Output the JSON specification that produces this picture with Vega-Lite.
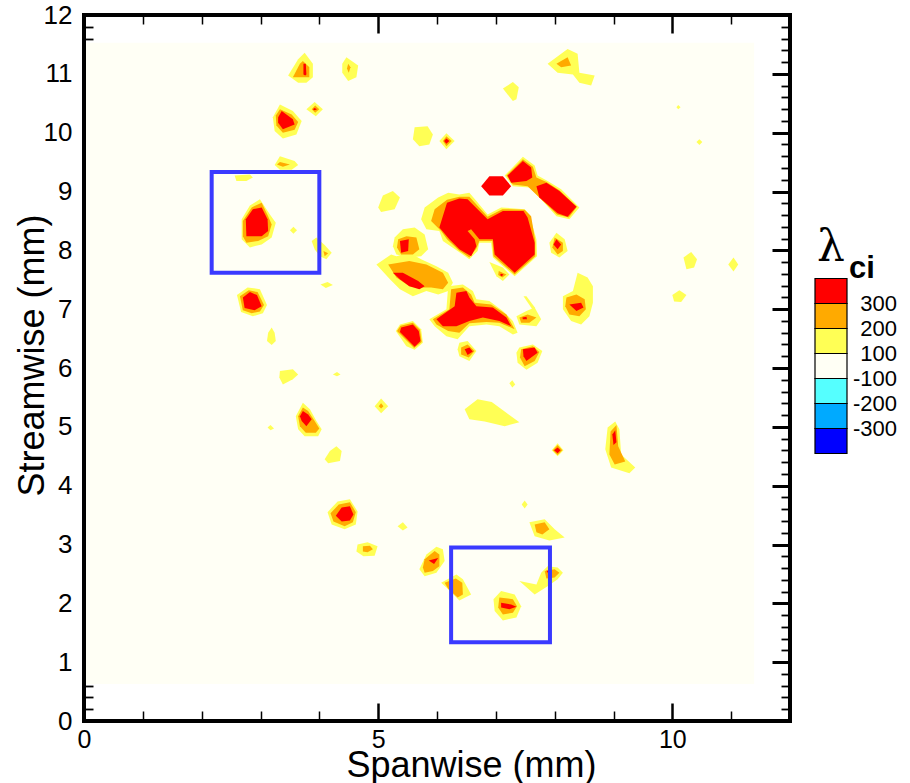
{
  "$schema": "https://vega.github.io/schema/vega-lite/v6.json",
  "background": "white",
  "padding": {"left": 14, "top": 2, "right": 4, "bottom": 4},
  "config": {
    "view": {"stroke": null},
    "font": "Liberation Sans",
    "axis": {"grid": false, "domain": false, "zindex": 1, "labelColor": "black", "titleColor": "black", "tickColor": "black", "labelFont": "Liberation Sans", "titleFont": "Liberation Sans", "titleFontWeight": "normal", "tickCap": "butt", "labelFlush": false}
  },
  "datasets": {
    "contours": [
      {"id":"A","lam":100,"x":3.75,"y":11.36},{"id":"A","lam":100,"x":3.89,"y":11.17},{"id":"A","lam":100,"x":3.89,"y":10.94},{"id":"A","lam":100,"x":3.78,"y":10.85},{"id":"A","lam":100,"x":3.64,"y":10.85},{"id":"A","lam":100,"x":3.47,"y":10.97},{"id":"A","lam":100,"x":3.64,"y":11.25},
      {"id":"B","lam":100,"x":4.46,"y":11.28},{"id":"B","lam":100,"x":4.66,"y":11.14},{"id":"B","lam":100,"x":4.63,"y":10.94},{"id":"B","lam":100,"x":4.49,"y":10.88},{"id":"B","lam":100,"x":4.39,"y":11.02},{"id":"B","lam":100,"x":4.39,"y":11.17},
      {"id":"C","lam":100,"x":7.88,"y":11.17},{"id":"C","lam":100,"x":8.22,"y":11.42},{"id":"C","lam":100,"x":8.39,"y":11.34},{"id":"C","lam":100,"x":8.42,"y":11.02},{"id":"C","lam":100,"x":8.68,"y":10.97},{"id":"C","lam":100,"x":8.62,"y":10.80},{"id":"C","lam":100,"x":8.42,"y":10.85},{"id":"C","lam":100,"x":8.31,"y":10.99},{"id":"C","lam":100,"x":8.05,"y":11.02},
      {"id":"D","lam":100,"x":7.12,"y":10.75},{"id":"D","lam":100,"x":7.29,"y":10.86},{"id":"D","lam":100,"x":7.39,"y":10.77},{"id":"D","lam":100,"x":7.35,"y":10.57},{"id":"D","lam":100,"x":7.29,"y":10.54},{"id":"D","lam":100,"x":7.20,"y":10.65},
      {"id":"E","lam":100,"x":3.33,"y":10.48},{"id":"E","lam":100,"x":3.55,"y":10.37},{"id":"E","lam":100,"x":3.70,"y":10.20},{"id":"E","lam":100,"x":3.61,"y":9.97},{"id":"E","lam":100,"x":3.38,"y":9.90},{"id":"E","lam":100,"x":3.24,"y":10.03},{"id":"E","lam":100,"x":3.21,"y":10.26},
      {"id":"F","lam":100,"x":3.92,"y":10.52},{"id":"F","lam":100,"x":4.06,"y":10.40},{"id":"F","lam":100,"x":3.94,"y":10.28},{"id":"F","lam":100,"x":3.78,"y":10.40},
      {"id":"G","lam":100,"x":5.62,"y":10.09},{"id":"G","lam":100,"x":5.84,"y":10.11},{"id":"G","lam":100,"x":5.93,"y":9.97},{"id":"G","lam":100,"x":5.87,"y":9.80},{"id":"G","lam":100,"x":5.70,"y":9.77},{"id":"G","lam":100,"x":5.59,"y":9.89},
      {"id":"H","lam":100,"x":6.16,"y":9.99},{"id":"H","lam":100,"x":6.30,"y":9.86},{"id":"H","lam":100,"x":6.16,"y":9.72},{"id":"H","lam":100,"x":6.04,"y":9.86},
      {"id":"J","lam":100,"x":3.33,"y":9.60},{"id":"J","lam":100,"x":3.58,"y":9.52},{"id":"J","lam":100,"x":3.64,"y":9.45},{"id":"J","lam":100,"x":3.53,"y":9.37},{"id":"J","lam":100,"x":3.33,"y":9.37},{"id":"J","lam":100,"x":3.24,"y":9.45},
      {"id":"K","lam":100,"x":2.56,"y":9.27},{"id":"K","lam":100,"x":2.82,"y":9.29},{"id":"K","lam":100,"x":2.87,"y":9.24},{"id":"K","lam":100,"x":2.76,"y":9.18},{"id":"K","lam":100,"x":2.59,"y":9.18},
      {"id":"P","lam":100,"x":5.08,"y":8.93},{"id":"P","lam":100,"x":5.25,"y":9.01},{"id":"P","lam":100,"x":5.37,"y":8.90},{"id":"P","lam":100,"x":5.28,"y":8.70},{"id":"P","lam":100,"x":5.05,"y":8.65},{"id":"P","lam":100,"x":5.00,"y":8.73},
      {"id":"L","lam":100,"x":5.73,"y":8.53},{"id":"L","lam":100,"x":5.79,"y":8.73},{"id":"L","lam":100,"x":6.02,"y":8.90},{"id":"L","lam":100,"x":6.19,"y":8.98},{"id":"L","lam":100,"x":6.38,"y":8.95},{"id":"L","lam":100,"x":6.55,"y":8.98},{"id":"L","lam":100,"x":6.67,"y":8.84},{"id":"L","lam":100,"x":6.86,"y":8.61},{"id":"L","lam":100,"x":7.09,"y":8.73},{"id":"L","lam":100,"x":7.49,"y":8.70},{"id":"L","lam":100,"x":7.57,"y":8.61},{"id":"L","lam":100,"x":7.69,"y":8.19},{"id":"L","lam":100,"x":7.70,"y":7.90},{"id":"L","lam":100,"x":7.32,"y":7.56},{"id":"L","lam":100,"x":6.95,"y":7.88},{"id":"L","lam":100,"x":6.92,"y":8.13},{"id":"L","lam":100,"x":6.72,"y":8.13},{"id":"L","lam":100,"x":6.69,"y":7.99},{"id":"L","lam":100,"x":6.55,"y":7.85},{"id":"L","lam":100,"x":6.35,"y":7.99},{"id":"L","lam":100,"x":6.10,"y":8.16},{"id":"L","lam":100,"x":6.04,"y":8.33},{"id":"L","lam":100,"x":5.82,"y":8.36},
      {"id":"UR","lam":100,"x":7.15,"y":9.27},{"id":"UR","lam":100,"x":7.46,"y":9.59},{"id":"UR","lam":100,"x":7.66,"y":9.44},{"id":"UR","lam":100,"x":7.71,"y":9.27},{"id":"UR","lam":100,"x":7.88,"y":9.18},{"id":"UR","lam":100,"x":8.11,"y":9.04},{"id":"UR","lam":100,"x":8.42,"y":8.73},{"id":"UR","lam":100,"x":8.25,"y":8.53},{"id":"UR","lam":100,"x":8.03,"y":8.58},{"id":"UR","lam":100,"x":7.77,"y":8.87},{"id":"UR","lam":100,"x":7.57,"y":9.07},{"id":"UR","lam":100,"x":7.29,"y":9.09},
      {"id":"LU","lam":100,"x":5.28,"y":8.22},{"id":"LU","lam":100,"x":5.42,"y":8.36},{"id":"LU","lam":100,"x":5.62,"y":8.39},{"id":"LU","lam":100,"x":5.79,"y":8.27},{"id":"LU","lam":100,"x":5.85,"y":8.02},{"id":"LU","lam":100,"x":5.73,"y":7.90},{"id":"LU","lam":100,"x":5.53,"y":7.88},{"id":"LU","lam":100,"x":5.31,"y":7.93},{"id":"LU","lam":100,"x":5.25,"y":8.07},
      {"id":"LL","lam":100,"x":4.97,"y":7.76},{"id":"LL","lam":100,"x":5.22,"y":7.93},{"id":"LL","lam":100,"x":5.31,"y":7.90},{"id":"LL","lam":100,"x":5.53,"y":7.96},{"id":"LL","lam":100,"x":5.73,"y":7.85},{"id":"LL","lam":100,"x":5.99,"y":7.73},{"id":"LL","lam":100,"x":6.19,"y":7.62},{"id":"LL","lam":100,"x":6.27,"y":7.45},{"id":"LL","lam":100,"x":6.19,"y":7.31},{"id":"LL","lam":100,"x":6.02,"y":7.25},{"id":"LL","lam":100,"x":5.82,"y":7.31},{"id":"LL","lam":100,"x":5.59,"y":7.22},{"id":"LL","lam":100,"x":5.37,"y":7.34},{"id":"LL","lam":100,"x":5.20,"y":7.51},
      {"id":"LM","lam":100,"x":5.87,"y":6.83},{"id":"LM","lam":100,"x":6.16,"y":7.00},{"id":"LM","lam":100,"x":6.19,"y":7.39},{"id":"LM","lam":100,"x":6.44,"y":7.42},{"id":"LM","lam":100,"x":6.61,"y":7.31},{"id":"LM","lam":100,"x":6.67,"y":7.17},{"id":"LM","lam":100,"x":6.89,"y":7.14},{"id":"LM","lam":100,"x":7.12,"y":6.97},{"id":"LM","lam":100,"x":7.29,"y":6.80},{"id":"LM","lam":100,"x":7.37,"y":6.60},{"id":"LM","lam":100,"x":7.29,"y":6.57},{"id":"LM","lam":100,"x":7.06,"y":6.71},{"id":"LM","lam":100,"x":6.84,"y":6.74},{"id":"LM","lam":100,"x":6.55,"y":6.71},{"id":"LM","lam":100,"x":6.35,"y":6.49},{"id":"LM","lam":100,"x":6.16,"y":6.54},{"id":"LM","lam":100,"x":5.96,"y":6.71},
      {"id":"AC","lam":100,"x":5.37,"y":6.74},{"id":"AC","lam":100,"x":5.59,"y":6.80},{"id":"AC","lam":100,"x":5.73,"y":6.66},{"id":"AC","lam":100,"x":5.76,"y":6.43},{"id":"AC","lam":100,"x":5.62,"y":6.31},{"id":"AC","lam":100,"x":5.48,"y":6.37},{"id":"AC","lam":100,"x":5.30,"y":6.63},
      {"id":"AD","lam":100,"x":6.38,"y":6.43},{"id":"AD","lam":100,"x":6.52,"y":6.46},{"id":"AD","lam":100,"x":6.67,"y":6.29},{"id":"AD","lam":100,"x":6.55,"y":6.12},{"id":"AD","lam":100,"x":6.38,"y":6.20},{"id":"AD","lam":100,"x":6.35,"y":6.32},
      {"id":"AE","lam":100,"x":7.40,"y":6.35},{"id":"AE","lam":100,"x":7.63,"y":6.40},{"id":"AE","lam":100,"x":7.79,"y":6.29},{"id":"AE","lam":100,"x":7.71,"y":6.09},{"id":"AE","lam":100,"x":7.52,"y":5.97},{"id":"AE","lam":100,"x":7.37,"y":6.09},{"id":"AE","lam":100,"x":7.35,"y":6.26},
      {"id":"AG","lam":100,"x":7.35,"y":6.88},{"id":"AG","lam":100,"x":7.52,"y":6.97},{"id":"AG","lam":100,"x":7.66,"y":7.03},{"id":"AG","lam":100,"x":7.77,"y":6.83},{"id":"AG","lam":100,"x":7.69,"y":6.71},{"id":"AG","lam":100,"x":7.40,"y":6.74},
      {"id":"AGb","lam":100,"x":7.47,"y":7.22},{"id":"AGb","lam":100,"x":7.52,"y":7.22},{"id":"AGb","lam":100,"x":7.67,"y":7.02},{"id":"AGb","lam":100,"x":7.62,"y":7.00},
      {"id":"AH","lam":100,"x":6.89,"y":7.80},{"id":"AH","lam":100,"x":7.12,"y":7.71},{"id":"AH","lam":100,"x":7.23,"y":7.59},{"id":"AH","lam":100,"x":7.12,"y":7.48},{"id":"AH","lam":100,"x":7.01,"y":7.56},
      {"id":"Q","lam":100,"x":8.03,"y":8.30},{"id":"Q","lam":100,"x":8.17,"y":8.19},{"id":"Q","lam":100,"x":8.22,"y":7.99},{"id":"Q","lam":100,"x":8.08,"y":7.88},{"id":"Q","lam":100,"x":7.94,"y":7.96},{"id":"Q","lam":100,"x":7.91,"y":8.13},
      {"id":"R","lam":100,"x":8.14,"y":7.22},{"id":"R","lam":100,"x":8.31,"y":7.31},{"id":"R","lam":100,"x":8.39,"y":7.62},{"id":"R","lam":100,"x":8.56,"y":7.54},{"id":"R","lam":100,"x":8.65,"y":7.39},{"id":"R","lam":100,"x":8.65,"y":7.11},{"id":"R","lam":100,"x":8.59,"y":6.88},{"id":"R","lam":100,"x":8.45,"y":6.74},{"id":"R","lam":100,"x":8.28,"y":6.80},{"id":"R","lam":100,"x":8.14,"y":7.00},
      {"id":"AV","lam":100,"x":8.90,"y":4.99},{"id":"AV","lam":100,"x":9.03,"y":5.09},{"id":"AV","lam":100,"x":9.10,"y":4.96},{"id":"AV","lam":100,"x":9.13,"y":4.53},{"id":"AV","lam":100,"x":9.37,"y":4.31},{"id":"AV","lam":100,"x":9.27,"y":4.21},{"id":"AV","lam":100,"x":8.96,"y":4.31},{"id":"AV","lam":100,"x":8.86,"y":4.62},
      {"id":"AW","lam":100,"x":7.95,"y":4.60},{"id":"AW","lam":100,"x":8.05,"y":4.72},{"id":"AW","lam":100,"x":8.15,"y":4.60},{"id":"AW","lam":100,"x":8.05,"y":4.50},
      {"id":"T","lam":100,"x":2.60,"y":7.24},{"id":"T","lam":100,"x":2.78,"y":7.37},{"id":"T","lam":100,"x":2.99,"y":7.34},{"id":"T","lam":100,"x":3.11,"y":7.07},{"id":"T","lam":100,"x":3.04,"y":6.93},{"id":"T","lam":100,"x":2.87,"y":6.88},{"id":"T","lam":100,"x":2.67,"y":6.95},
      {"id":"U","lam":100,"x":3.19,"y":6.69},{"id":"U","lam":100,"x":3.24,"y":6.60},{"id":"U","lam":100,"x":3.26,"y":6.46},{"id":"U","lam":100,"x":3.19,"y":6.39},{"id":"U","lam":100,"x":3.11,"y":6.46},{"id":"U","lam":100,"x":3.13,"y":6.60},
      {"id":"W","lam":100,"x":4.23,"y":5.89},{"id":"W","lam":100,"x":4.30,"y":5.93},{"id":"W","lam":100,"x":4.36,"y":5.89},{"id":"W","lam":100,"x":4.30,"y":5.86},
      {"id":"X","lam":100,"x":3.33,"y":5.95},{"id":"X","lam":100,"x":3.55,"y":5.98},{"id":"X","lam":100,"x":3.64,"y":5.89},{"id":"X","lam":100,"x":3.55,"y":5.81},{"id":"X","lam":100,"x":3.38,"y":5.72},{"id":"X","lam":100,"x":3.32,"y":5.84},
      {"id":"Y","lam":100,"x":3.72,"y":5.41},{"id":"Y","lam":100,"x":3.84,"y":5.30},{"id":"Y","lam":100,"x":3.95,"y":5.10},{"id":"Y","lam":100,"x":4.04,"y":4.96},{"id":"Y","lam":100,"x":3.98,"y":4.84},{"id":"Y","lam":100,"x":3.75,"y":4.84},{"id":"Y","lam":100,"x":3.64,"y":4.96},{"id":"Y","lam":100,"x":3.60,"y":5.18},
      {"id":"Z","lam":100,"x":5.05,"y":5.48},{"id":"Z","lam":100,"x":5.17,"y":5.35},{"id":"Z","lam":100,"x":5.05,"y":5.23},{"id":"Z","lam":100,"x":4.94,"y":5.35},
      {"id":"AA","lam":100,"x":3.12,"y":4.99},{"id":"AA","lam":100,"x":3.17,"y":5.03},{"id":"AA","lam":100,"x":3.23,"y":4.97},{"id":"AA","lam":100,"x":3.17,"y":4.94},
      {"id":"AB","lam":100,"x":4.29,"y":4.67},{"id":"AB","lam":100,"x":4.38,"y":4.59},{"id":"AB","lam":100,"x":4.35,"y":4.42},{"id":"AB","lam":100,"x":4.15,"y":4.38},{"id":"AB","lam":100,"x":4.09,"y":4.45},{"id":"AB","lam":100,"x":4.18,"y":4.59},
      {"id":"AL","lam":100,"x":4.31,"y":3.73},{"id":"AL","lam":100,"x":4.52,"y":3.77},{"id":"AL","lam":100,"x":4.65,"y":3.56},{"id":"AL","lam":100,"x":4.62,"y":3.34},{"id":"AL","lam":100,"x":4.43,"y":3.26},{"id":"AL","lam":100,"x":4.21,"y":3.34},{"id":"AL","lam":100,"x":4.14,"y":3.55},
      {"id":"AM","lam":100,"x":4.65,"y":3.00},{"id":"AM","lam":100,"x":4.82,"y":3.04},{"id":"AM","lam":100,"x":4.99,"y":2.97},{"id":"AM","lam":100,"x":4.94,"y":2.81},{"id":"AM","lam":100,"x":4.75,"y":2.80},{"id":"AM","lam":100,"x":4.63,"y":2.88},
      {"id":"AN","lam":100,"x":5.33,"y":3.31},{"id":"AN","lam":100,"x":5.42,"y":3.38},{"id":"AN","lam":100,"x":5.50,"y":3.29},{"id":"AN","lam":100,"x":5.42,"y":3.24},
      {"id":"AO","lam":100,"x":5.82,"y":2.83},{"id":"AO","lam":100,"x":5.99,"y":2.96},{"id":"AO","lam":100,"x":6.10,"y":2.92},{"id":"AO","lam":100,"x":6.13,"y":2.72},{"id":"AO","lam":100,"x":5.99,"y":2.52},{"id":"AO","lam":100,"x":5.79,"y":2.46},{"id":"AO","lam":100,"x":5.70,"y":2.58},
      {"id":"AP","lam":100,"x":6.07,"y":2.35},{"id":"AP","lam":100,"x":6.33,"y":2.49},{"id":"AP","lam":100,"x":6.44,"y":2.41},{"id":"AP","lam":100,"x":6.58,"y":2.15},{"id":"AP","lam":100,"x":6.38,"y":2.05},{"id":"AP","lam":100,"x":6.16,"y":2.27},
      {"id":"AQ","lam":100,"x":7.09,"y":2.21},{"id":"AQ","lam":100,"x":7.32,"y":2.15},{"id":"AQ","lam":100,"x":7.43,"y":1.95},{"id":"AQ","lam":100,"x":7.35,"y":1.76},{"id":"AQ","lam":100,"x":7.12,"y":1.71},{"id":"AQ","lam":100,"x":6.98,"y":1.87},{"id":"AQ","lam":100,"x":6.96,"y":2.07},
      {"id":"AR","lam":100,"x":7.40,"y":2.38},{"id":"AR","lam":100,"x":7.69,"y":2.32},{"id":"AR","lam":100,"x":7.77,"y":2.52},{"id":"AR","lam":100,"x":7.88,"y":2.63},{"id":"AR","lam":100,"x":8.05,"y":2.61},{"id":"AR","lam":100,"x":8.14,"y":2.52},{"id":"AR","lam":100,"x":8.05,"y":2.41},{"id":"AR","lam":100,"x":7.88,"y":2.29},{"id":"AR","lam":100,"x":7.66,"y":2.15},
      {"id":"AS","lam":100,"x":7.57,"y":3.38},{"id":"AS","lam":100,"x":7.83,"y":3.43},{"id":"AS","lam":100,"x":8.00,"y":3.26},{"id":"AS","lam":100,"x":8.17,"y":3.12},{"id":"AS","lam":100,"x":7.91,"y":3.07},{"id":"AS","lam":100,"x":7.66,"y":3.14},
      {"id":"AT","lam":100,"x":7.44,"y":3.68},{"id":"AT","lam":100,"x":7.49,"y":3.75},{"id":"AT","lam":100,"x":7.54,"y":3.68},{"id":"AT","lam":100,"x":7.49,"y":3.61},
      {"id":"BY","lam":100,"x":6.47,"y":5.30},{"id":"BY","lam":100,"x":6.69,"y":5.47},{"id":"BY","lam":100,"x":6.93,"y":5.42},{"id":"BY","lam":100,"x":7.15,"y":5.26},{"id":"BY","lam":100,"x":7.40,"y":5.08},{"id":"BY","lam":100,"x":7.15,"y":5.01},{"id":"BY","lam":100,"x":6.81,"y":5.09},{"id":"BY","lam":100,"x":6.55,"y":5.13},
      {"id":"TD","lam":100,"x":7.23,"y":5.74},{"id":"TD","lam":100,"x":7.28,"y":5.79},{"id":"TD","lam":100,"x":7.33,"y":5.72},{"id":"TD","lam":100,"x":7.28,"y":5.67},
      {"id":"S1","lam":100,"x":10.19,"y":7.88},{"id":"S1","lam":100,"x":10.32,"y":7.97},{"id":"S1","lam":100,"x":10.42,"y":7.85},{"id":"S1","lam":100,"x":10.37,"y":7.71},{"id":"S1","lam":100,"x":10.24,"y":7.68},
      {"id":"S2","lam":100,"x":10.00,"y":7.24},{"id":"S2","lam":100,"x":10.12,"y":7.32},{"id":"S2","lam":100,"x":10.24,"y":7.24},{"id":"S2","lam":100,"x":10.15,"y":7.12},{"id":"S2","lam":100,"x":10.03,"y":7.13},
      {"id":"S3","lam":100,"x":10.95,"y":7.76},{"id":"S3","lam":100,"x":11.04,"y":7.88},{"id":"S3","lam":100,"x":11.12,"y":7.76},{"id":"S3","lam":100,"x":11.04,"y":7.64},
      {"id":"S4","lam":100,"x":10.07,"y":10.43},{"id":"S4","lam":100,"x":10.10,"y":10.47},{"id":"S4","lam":100,"x":10.14,"y":10.43},{"id":"S4","lam":100,"x":10.10,"y":10.40},
      {"id":"S5","lam":100,"x":10.41,"y":9.84},{"id":"S5","lam":100,"x":10.46,"y":9.89},{"id":"S5","lam":100,"x":10.51,"y":9.84},{"id":"S5","lam":100,"x":10.46,"y":9.79},
      {"id":"M","lam":100,"x":2.68,"y":8.53},{"id":"M","lam":100,"x":2.82,"y":8.76},{"id":"M","lam":100,"x":2.99,"y":8.87},{"id":"M","lam":100,"x":3.16,"y":8.61},{"id":"M","lam":100,"x":3.26,"y":8.47},{"id":"M","lam":100,"x":3.19,"y":8.22},{"id":"M","lam":100,"x":3.02,"y":8.10},{"id":"M","lam":100,"x":2.82,"y":8.05},{"id":"M","lam":100,"x":2.68,"y":8.19},
      {"id":"N","lam":100,"x":3.56,"y":8.40},{"id":"N","lam":100,"x":3.62,"y":8.34},{"id":"N","lam":100,"x":3.56,"y":8.28},{"id":"N","lam":100,"x":3.50,"y":8.34},
      {"id":"O","lam":100,"x":3.87,"y":8.16},{"id":"O","lam":100,"x":3.95,"y":8.22},{"id":"O","lam":100,"x":4.09,"y":8.09},{"id":"O","lam":100,"x":4.21,"y":7.96},{"id":"O","lam":100,"x":4.12,"y":7.85},{"id":"O","lam":100,"x":4.01,"y":7.90},{"id":"O","lam":100,"x":3.92,"y":8.02},
      {"id":"Od","lam":100,"x":4.02,"y":7.42},{"id":"Od","lam":100,"x":4.14,"y":7.46},{"id":"Od","lam":100,"x":4.23,"y":7.41},{"id":"Od","lam":100,"x":4.11,"y":7.36},

      {"id":"A","lam":200,"x":3.72,"y":11.22},{"id":"A","lam":200,"x":3.83,"y":11.11},{"id":"A","lam":200,"x":3.83,"y":10.94},{"id":"A","lam":200,"x":3.55,"y":10.94},{"id":"A","lam":200,"x":3.67,"y":11.17},
      {"id":"B","lam":200,"x":4.49,"y":11.17},{"id":"B","lam":200,"x":4.53,"y":11.11},{"id":"B","lam":200,"x":4.50,"y":11.02},{"id":"B","lam":200,"x":4.47,"y":11.09},
      {"id":"C","lam":200,"x":8.03,"y":11.17},{"id":"C","lam":200,"x":8.22,"y":11.28},{"id":"C","lam":200,"x":8.28,"y":11.14},{"id":"C","lam":200,"x":8.11,"y":11.11},
      {"id":"E","lam":200,"x":3.33,"y":10.40},{"id":"E","lam":200,"x":3.53,"y":10.31},{"id":"E","lam":200,"x":3.64,"y":10.18},{"id":"E","lam":200,"x":3.58,"y":10.05},{"id":"E","lam":200,"x":3.38,"y":10.00},{"id":"E","lam":200,"x":3.27,"y":10.12},{"id":"E","lam":200,"x":3.26,"y":10.29},
      {"id":"F","lam":200,"x":3.93,"y":10.46},{"id":"F","lam":200,"x":4.00,"y":10.40},{"id":"F","lam":200,"x":3.93,"y":10.34},{"id":"F","lam":200,"x":3.87,"y":10.40},
      {"id":"H","lam":200,"x":6.16,"y":9.94},{"id":"H","lam":200,"x":6.25,"y":9.86},{"id":"H","lam":200,"x":6.16,"y":9.77},{"id":"H","lam":200,"x":6.10,"y":9.86},
      {"id":"J","lam":200,"x":3.28,"y":9.46},{"id":"J","lam":200,"x":3.33,"y":9.50},{"id":"J","lam":200,"x":3.50,"y":9.46},{"id":"J","lam":200,"x":3.38,"y":9.42},
      {"id":"L","lam":200,"x":5.90,"y":8.50},{"id":"L","lam":200,"x":5.96,"y":8.70},{"id":"L","lam":200,"x":6.17,"y":8.86},{"id":"L","lam":200,"x":6.38,"y":8.91},{"id":"L","lam":200,"x":6.55,"y":8.91},{"id":"L","lam":200,"x":6.86,"y":8.57},{"id":"L","lam":200,"x":7.11,"y":8.70},{"id":"L","lam":200,"x":7.49,"y":8.69},{"id":"L","lam":200,"x":7.60,"y":8.58},{"id":"L","lam":200,"x":7.67,"y":8.16},{"id":"L","lam":200,"x":7.67,"y":7.90},{"id":"L","lam":200,"x":7.32,"y":7.59},{"id":"L","lam":200,"x":6.96,"y":7.90},{"id":"L","lam":200,"x":6.94,"y":8.16},{"id":"L","lam":200,"x":6.72,"y":8.16},{"id":"L","lam":200,"x":6.67,"y":8.03},{"id":"L","lam":200,"x":6.55,"y":7.88},{"id":"L","lam":200,"x":6.37,"y":8.00},{"id":"L","lam":200,"x":6.17,"y":8.19},{"id":"L","lam":200,"x":6.07,"y":8.33},
      {"id":"UR","lam":200,"x":7.18,"y":9.27},{"id":"UR","lam":200,"x":7.46,"y":9.55},{"id":"UR","lam":200,"x":7.63,"y":9.42},{"id":"UR","lam":200,"x":7.69,"y":9.24},{"id":"UR","lam":200,"x":7.86,"y":9.16},{"id":"UR","lam":200,"x":8.08,"y":9.02},{"id":"UR","lam":200,"x":8.38,"y":8.74},{"id":"UR","lam":200,"x":8.24,"y":8.56},{"id":"UR","lam":200,"x":8.04,"y":8.61},{"id":"UR","lam":200,"x":7.74,"y":8.90},{"id":"UR","lam":200,"x":7.54,"y":9.09},{"id":"UR","lam":200,"x":7.29,"y":9.12},
      {"id":"LU","lam":200,"x":5.34,"y":8.19},{"id":"LU","lam":200,"x":5.48,"y":8.24},{"id":"LU","lam":200,"x":5.65,"y":8.22},{"id":"LU","lam":200,"x":5.70,"y":8.02},{"id":"LU","lam":200,"x":5.59,"y":7.93},{"id":"LU","lam":200,"x":5.39,"y":7.93},{"id":"LU","lam":200,"x":5.32,"y":8.05},
      {"id":"LL","lam":200,"x":5.17,"y":7.76},{"id":"LL","lam":200,"x":5.53,"y":7.82},{"id":"LL","lam":200,"x":5.82,"y":7.76},{"id":"LL","lam":200,"x":6.10,"y":7.62},{"id":"LL","lam":200,"x":6.19,"y":7.45},{"id":"LL","lam":200,"x":6.10,"y":7.34},{"id":"LL","lam":200,"x":5.90,"y":7.37},{"id":"LL","lam":200,"x":5.70,"y":7.37},{"id":"LL","lam":200,"x":5.53,"y":7.39},{"id":"LL","lam":200,"x":5.31,"y":7.54},
      {"id":"LM","lam":200,"x":5.93,"y":6.83},{"id":"LM","lam":200,"x":6.21,"y":7.00},{"id":"LM","lam":200,"x":6.24,"y":7.34},{"id":"LM","lam":200,"x":6.44,"y":7.37},{"id":"LM","lam":200,"x":6.58,"y":7.25},{"id":"LM","lam":200,"x":6.64,"y":7.11},{"id":"LM","lam":200,"x":6.92,"y":7.08},{"id":"LM","lam":200,"x":7.18,"y":6.91},{"id":"LM","lam":200,"x":7.32,"y":6.66},{"id":"LM","lam":200,"x":7.06,"y":6.77},{"id":"LM","lam":200,"x":6.84,"y":6.78},{"id":"LM","lam":200,"x":6.55,"y":6.76},{"id":"LM","lam":200,"x":6.38,"y":6.60},{"id":"LM","lam":200,"x":6.19,"y":6.63},{"id":"LM","lam":200,"x":5.99,"y":6.74},
      {"id":"AC","lam":200,"x":5.38,"y":6.72},{"id":"AC","lam":200,"x":5.59,"y":6.77},{"id":"AC","lam":200,"x":5.71,"y":6.65},{"id":"AC","lam":200,"x":5.74,"y":6.44},{"id":"AC","lam":200,"x":5.61,"y":6.34},{"id":"AC","lam":200,"x":5.32,"y":6.63},
      {"id":"AD","lam":200,"x":6.41,"y":6.35},{"id":"AD","lam":200,"x":6.52,"y":6.40},{"id":"AD","lam":200,"x":6.64,"y":6.29},{"id":"AD","lam":200,"x":6.54,"y":6.18},{"id":"AD","lam":200,"x":6.41,"y":6.23},
      {"id":"AE","lam":200,"x":7.43,"y":6.32},{"id":"AE","lam":200,"x":7.63,"y":6.37},{"id":"AE","lam":200,"x":7.74,"y":6.27},{"id":"AE","lam":200,"x":7.66,"y":6.12},{"id":"AE","lam":200,"x":7.49,"y":6.03},{"id":"AE","lam":200,"x":7.41,"y":6.18},
      {"id":"AG","lam":200,"x":7.40,"y":6.86},{"id":"AG","lam":200,"x":7.54,"y":6.91},{"id":"AG","lam":200,"x":7.69,"y":6.86},{"id":"AG","lam":200,"x":7.57,"y":6.77},{"id":"AG","lam":200,"x":7.43,"y":6.77},
      {"id":"AH","lam":200,"x":7.05,"y":7.65},{"id":"AH","lam":200,"x":7.18,"y":7.59},{"id":"AH","lam":200,"x":7.11,"y":7.54},{"id":"AH","lam":200,"x":7.04,"y":7.58},
      {"id":"Q","lam":200,"x":8.00,"y":8.22},{"id":"Q","lam":200,"x":8.14,"y":8.13},{"id":"Q","lam":200,"x":8.14,"y":7.99},{"id":"Q","lam":200,"x":8.05,"y":7.93},{"id":"Q","lam":200,"x":7.96,"y":8.05},
      {"id":"R","lam":200,"x":8.20,"y":7.20},{"id":"R","lam":200,"x":8.37,"y":7.25},{"id":"R","lam":200,"x":8.51,"y":7.17},{"id":"R","lam":200,"x":8.53,"y":7.00},{"id":"R","lam":200,"x":8.42,"y":6.88},{"id":"R","lam":200,"x":8.25,"y":6.91},{"id":"R","lam":200,"x":8.18,"y":7.05},
      {"id":"AV","lam":200,"x":8.95,"y":4.92},{"id":"AV","lam":200,"x":9.05,"y":5.03},{"id":"AV","lam":200,"x":9.08,"y":4.67},{"id":"AV","lam":200,"x":9.20,"y":4.41},{"id":"AV","lam":200,"x":9.02,"y":4.36},{"id":"AV","lam":200,"x":8.93,"y":4.53},
      {"id":"AW","lam":200,"x":7.97,"y":4.60},{"id":"AW","lam":200,"x":8.05,"y":4.69},{"id":"AW","lam":200,"x":8.13,"y":4.60},{"id":"AW","lam":200,"x":8.05,"y":4.52},
      {"id":"T","lam":200,"x":2.65,"y":7.22},{"id":"T","lam":200,"x":2.80,"y":7.32},{"id":"T","lam":200,"x":2.95,"y":7.29},{"id":"T","lam":200,"x":3.06,"y":7.07},{"id":"T","lam":200,"x":2.99,"y":6.96},{"id":"T","lam":200,"x":2.85,"y":6.93},{"id":"T","lam":200,"x":2.70,"y":6.98},
      {"id":"Y","lam":200,"x":3.72,"y":5.33},{"id":"Y","lam":200,"x":3.81,"y":5.27},{"id":"Y","lam":200,"x":3.92,"y":5.10},{"id":"Y","lam":200,"x":4.00,"y":4.97},{"id":"Y","lam":200,"x":3.94,"y":4.90},{"id":"Y","lam":200,"x":3.77,"y":4.90},{"id":"Y","lam":200,"x":3.67,"y":5.01},{"id":"Y","lam":200,"x":3.64,"y":5.18},
      {"id":"Z","lam":200,"x":5.05,"y":5.40},{"id":"Z","lam":200,"x":5.09,"y":5.35},{"id":"Z","lam":200,"x":5.05,"y":5.31},{"id":"Z","lam":200,"x":5.01,"y":5.35},
      {"id":"AL","lam":200,"x":4.33,"y":3.68},{"id":"AL","lam":200,"x":4.52,"y":3.72},{"id":"AL","lam":200,"x":4.62,"y":3.55},{"id":"AL","lam":200,"x":4.57,"y":3.38},{"id":"AL","lam":200,"x":4.43,"y":3.31},{"id":"AL","lam":200,"x":4.24,"y":3.39},{"id":"AL","lam":200,"x":4.19,"y":3.53},
      {"id":"AM","lam":200,"x":4.74,"y":2.97},{"id":"AM","lam":200,"x":4.86,"y":2.98},{"id":"AM","lam":200,"x":4.91,"y":2.92},{"id":"AM","lam":200,"x":4.82,"y":2.87},{"id":"AM","lam":200,"x":4.74,"y":2.88},
      {"id":"AO","lam":200,"x":5.79,"y":2.75},{"id":"AO","lam":200,"x":5.96,"y":2.89},{"id":"AO","lam":200,"x":6.04,"y":2.83},{"id":"AO","lam":200,"x":6.04,"y":2.63},{"id":"AO","lam":200,"x":5.93,"y":2.55},{"id":"AO","lam":200,"x":5.79,"y":2.52},{"id":"AO","lam":200,"x":5.76,"y":2.61},
      {"id":"AP","lam":200,"x":6.13,"y":2.35},{"id":"AP","lam":200,"x":6.32,"y":2.42},{"id":"AP","lam":200,"x":6.43,"y":2.35},{"id":"AP","lam":200,"x":6.44,"y":2.15},{"id":"AP","lam":200,"x":6.35,"y":2.10},{"id":"AP","lam":200,"x":6.19,"y":2.25},
      {"id":"AQ","lam":200,"x":7.06,"y":2.10},{"id":"AQ","lam":200,"x":7.29,"y":2.07},{"id":"AQ","lam":200,"x":7.36,"y":1.95},{"id":"AQ","lam":200,"x":7.29,"y":1.84},{"id":"AQ","lam":200,"x":7.12,"y":1.81},{"id":"AQ","lam":200,"x":7.04,"y":1.93},
      {"id":"AR","lam":200,"x":7.83,"y":2.55},{"id":"AR","lam":200,"x":8.00,"y":2.58},{"id":"AR","lam":200,"x":8.08,"y":2.52},{"id":"AR","lam":200,"x":8.00,"y":2.44},{"id":"AR","lam":200,"x":7.86,"y":2.42},
      {"id":"AS","lam":200,"x":7.66,"y":3.34},{"id":"AS","lam":200,"x":7.83,"y":3.38},{"id":"AS","lam":200,"x":7.91,"y":3.26},{"id":"AS","lam":200,"x":7.79,"y":3.17},{"id":"AS","lam":200,"x":7.69,"y":3.21},
      {"id":"M","lam":200,"x":2.70,"y":8.50},{"id":"M","lam":200,"x":2.85,"y":8.73},{"id":"M","lam":200,"x":3.02,"y":8.81},{"id":"M","lam":200,"x":3.13,"y":8.58},{"id":"M","lam":200,"x":3.19,"y":8.44},{"id":"M","lam":200,"x":3.13,"y":8.24},{"id":"M","lam":200,"x":2.96,"y":8.16},{"id":"M","lam":200,"x":2.76,"y":8.13},{"id":"M","lam":200,"x":2.70,"y":8.24},
      {"id":"O","lam":200,"x":4.07,"y":7.99},{"id":"O","lam":200,"x":4.15,"y":7.95},{"id":"O","lam":200,"x":4.09,"y":7.90},

      {"id":"A","lam":300,"x":3.73,"y":11.17},{"id":"A","lam":300,"x":3.77,"y":11.17},{"id":"A","lam":300,"x":3.78,"y":10.99},{"id":"A","lam":300,"x":3.76,"y":10.97},{"id":"A","lam":300,"x":3.73,"y":10.99},
      {"id":"E","lam":300,"x":3.36,"y":10.37},{"id":"E","lam":300,"x":3.55,"y":10.23},{"id":"E","lam":300,"x":3.58,"y":10.14},{"id":"E","lam":300,"x":3.38,"y":10.06},{"id":"E","lam":300,"x":3.30,"y":10.17},{"id":"E","lam":300,"x":3.30,"y":10.26},
      {"id":"F","lam":300,"x":3.92,"y":10.42},{"id":"F","lam":300,"x":3.96,"y":10.40},{"id":"F","lam":300,"x":3.92,"y":10.38},{"id":"F","lam":300,"x":3.89,"y":10.40},
      {"id":"H","lam":300,"x":6.16,"y":9.90},{"id":"H","lam":300,"x":6.21,"y":9.86},{"id":"H","lam":300,"x":6.16,"y":9.81},{"id":"H","lam":300,"x":6.12,"y":9.86},
      {"id":"L","lam":300,"x":6.04,"y":8.39},{"id":"L","lam":300,"x":6.17,"y":8.81},{"id":"L","lam":300,"x":6.38,"y":8.88},{"id":"L","lam":300,"x":6.52,"y":8.87},{"id":"L","lam":300,"x":6.86,"y":8.53},{"id":"L","lam":300,"x":7.12,"y":8.67},{"id":"L","lam":300,"x":7.47,"y":8.67},{"id":"L","lam":300,"x":7.54,"y":8.56},{"id":"L","lam":300,"x":7.66,"y":8.13},{"id":"L","lam":300,"x":7.66,"y":7.93},{"id":"L","lam":300,"x":7.32,"y":7.62},{"id":"L","lam":300,"x":6.98,"y":7.93},{"id":"L","lam":300,"x":6.95,"y":8.19},{"id":"L","lam":300,"x":6.72,"y":8.19},{"id":"L","lam":300,"x":6.58,"y":8.36},{"id":"L","lam":300,"x":6.52,"y":8.33},{"id":"L","lam":300,"x":6.64,"y":8.19},{"id":"L","lam":300,"x":6.67,"y":8.07},{"id":"L","lam":300,"x":6.58,"y":7.90},{"id":"L","lam":300,"x":6.38,"y":8.02},{"id":"L","lam":300,"x":6.21,"y":8.19},
      {"id":"URa","lam":300,"x":7.20,"y":9.27},{"id":"URa","lam":300,"x":7.46,"y":9.52},{"id":"URa","lam":300,"x":7.60,"y":9.41},{"id":"URa","lam":300,"x":7.62,"y":9.24},{"id":"URa","lam":300,"x":7.52,"y":9.18},{"id":"URa","lam":300,"x":7.26,"y":9.15},
      {"id":"URb","lam":300,"x":7.69,"y":9.09},{"id":"URb","lam":300,"x":7.86,"y":9.15},{"id":"URb","lam":300,"x":8.08,"y":9.01},{"id":"URb","lam":300,"x":8.37,"y":8.74},{"id":"URb","lam":300,"x":8.22,"y":8.57},{"id":"URb","lam":300,"x":8.05,"y":8.63},{"id":"URb","lam":300,"x":7.74,"y":8.90},
      {"id":"HX","lam":300,"x":6.75,"y":9.09},{"id":"HX","lam":300,"x":6.89,"y":9.26},{"id":"HX","lam":300,"x":7.12,"y":9.26},{"id":"HX","lam":300,"x":7.26,"y":9.09},{"id":"HX","lam":300,"x":7.12,"y":8.93},{"id":"HX","lam":300,"x":6.89,"y":8.93},
      {"id":"LU","lam":300,"x":5.37,"y":8.16},{"id":"LU","lam":300,"x":5.52,"y":8.19},{"id":"LU","lam":300,"x":5.51,"y":7.99},{"id":"LU","lam":300,"x":5.39,"y":7.96},
      {"id":"LL","lam":300,"x":5.25,"y":7.62},{"id":"LL","lam":300,"x":5.42,"y":7.62},{"id":"LL","lam":300,"x":5.68,"y":7.48},{"id":"LL","lam":300,"x":5.79,"y":7.39},{"id":"LL","lam":300,"x":5.70,"y":7.34},{"id":"LL","lam":300,"x":5.53,"y":7.39},{"id":"LL","lam":300,"x":5.37,"y":7.51},
      {"id":"LM","lam":300,"x":5.99,"y":6.83},{"id":"LM","lam":300,"x":6.30,"y":7.05},{"id":"LM","lam":300,"x":6.33,"y":7.28},{"id":"LM","lam":300,"x":6.50,"y":7.31},{"id":"LM","lam":300,"x":6.55,"y":7.20},{"id":"LM","lam":300,"x":6.67,"y":7.05},{"id":"LM","lam":300,"x":6.95,"y":7.03},{"id":"LM","lam":300,"x":7.18,"y":6.86},{"id":"LM","lam":300,"x":7.26,"y":6.71},{"id":"LM","lam":300,"x":7.06,"y":6.80},{"id":"LM","lam":300,"x":6.78,"y":6.86},{"id":"LM","lam":300,"x":6.55,"y":6.80},{"id":"LM","lam":300,"x":6.33,"y":6.71},{"id":"LM","lam":300,"x":6.10,"y":6.71},
      {"id":"AC","lam":300,"x":5.39,"y":6.69},{"id":"AC","lam":300,"x":5.59,"y":6.74},{"id":"AC","lam":300,"x":5.69,"y":6.63},{"id":"AC","lam":300,"x":5.72,"y":6.46},{"id":"AC","lam":300,"x":5.62,"y":6.36},{"id":"AC","lam":300,"x":5.37,"y":6.61},
      {"id":"AD","lam":300,"x":6.47,"y":6.32},{"id":"AD","lam":300,"x":6.55,"y":6.35},{"id":"AD","lam":300,"x":6.61,"y":6.28},{"id":"AD","lam":300,"x":6.52,"y":6.22},
      {"id":"AE","lam":300,"x":7.46,"y":6.32},{"id":"AE","lam":300,"x":7.66,"y":6.35},{"id":"AE","lam":300,"x":7.71,"y":6.26},{"id":"AE","lam":300,"x":7.52,"y":6.12},{"id":"AE","lam":300,"x":7.47,"y":6.20},
      {"id":"AG","lam":300,"x":7.45,"y":6.86},{"id":"AG","lam":300,"x":7.52,"y":6.87},{"id":"AG","lam":300,"x":7.53,"y":6.83},{"id":"AG","lam":300,"x":7.46,"y":6.83},
      {"id":"AH","lam":300,"x":7.09,"y":7.60},{"id":"AH","lam":300,"x":7.13,"y":7.59},{"id":"AH","lam":300,"x":7.10,"y":7.56},{"id":"AH","lam":300,"x":7.07,"y":7.58},
      {"id":"Q","lam":300,"x":8.03,"y":8.19},{"id":"Q","lam":300,"x":8.11,"y":8.10},{"id":"Q","lam":300,"x":8.05,"y":8.02},{"id":"Q","lam":300,"x":7.98,"y":8.10},
      {"id":"R","lam":300,"x":8.25,"y":7.08},{"id":"R","lam":300,"x":8.45,"y":7.11},{"id":"R","lam":300,"x":8.49,"y":7.03},{"id":"R","lam":300,"x":8.37,"y":6.97},
      {"id":"AV","lam":300,"x":8.98,"y":4.87},{"id":"AV","lam":300,"x":9.03,"y":4.94},{"id":"AV","lam":300,"x":9.05,"y":4.74},{"id":"AV","lam":300,"x":9.00,"y":4.69},
      {"id":"AW","lam":300,"x":7.99,"y":4.60},{"id":"AW","lam":300,"x":8.05,"y":4.65},{"id":"AW","lam":300,"x":8.10,"y":4.60},{"id":"AW","lam":300,"x":8.05,"y":4.55},
      {"id":"T","lam":300,"x":2.70,"y":7.20},{"id":"T","lam":300,"x":2.82,"y":7.29},{"id":"T","lam":300,"x":2.94,"y":7.24},{"id":"T","lam":300,"x":3.02,"y":7.05},{"id":"T","lam":300,"x":2.90,"y":6.98},{"id":"T","lam":300,"x":2.73,"y":7.02},
      {"id":"Y","lam":300,"x":3.72,"y":5.27},{"id":"Y","lam":300,"x":3.81,"y":5.21},{"id":"Y","lam":300,"x":3.87,"y":5.13},{"id":"Y","lam":300,"x":3.78,"y":5.01},{"id":"Y","lam":300,"x":3.70,"y":5.10},{"id":"Y","lam":300,"x":3.67,"y":5.18},
      {"id":"AL","lam":300,"x":4.38,"y":3.63},{"id":"AL","lam":300,"x":4.52,"y":3.65},{"id":"AL","lam":300,"x":4.58,"y":3.51},{"id":"AL","lam":300,"x":4.52,"y":3.41},{"id":"AL","lam":300,"x":4.38,"y":3.39},{"id":"AL","lam":300,"x":4.28,"y":3.49},
      {"id":"AO","lam":300,"x":5.86,"y":2.73},{"id":"AO","lam":300,"x":6.02,"y":2.77},{"id":"AO","lam":300,"x":5.95,"y":2.67},
      {"id":"AQ","lam":300,"x":7.09,"y":2.01},{"id":"AQ","lam":300,"x":7.26,"y":1.98},{"id":"AQ","lam":300,"x":7.35,"y":1.94},{"id":"AQ","lam":300,"x":7.23,"y":1.90},{"id":"AQ","lam":300,"x":7.09,"y":1.93},
      {"id":"AR","lam":300,"x":7.86,"y":2.56},{"id":"AR","lam":300,"x":7.92,"y":2.55},{"id":"AR","lam":300,"x":7.88,"y":2.52},
      {"id":"M","lam":300,"x":2.75,"y":8.53},{"id":"M","lam":300,"x":2.87,"y":8.70},{"id":"M","lam":300,"x":3.02,"y":8.73},{"id":"M","lam":300,"x":3.12,"y":8.53},{"id":"M","lam":300,"x":3.13,"y":8.33},{"id":"M","lam":300,"x":3.02,"y":8.24},{"id":"M","lam":300,"x":2.76,"y":8.24}
    ],
    "levels": [
      {"lam": 350, "edge": ""},
      {"lam": 250, "edge": "300"},
      {"lam": 150, "edge": "200"},
      {"lam": 0, "edge": "100"},
      {"lam": -150, "edge": "-100"},
      {"lam": -250, "edge": "-200"},
      {"lam": -350, "edge": "-300"}
    ]
  },
  "spacing": 22,
  "hconcat": [
    {
      "width": 706,
      "height": 706,
      "data": {"name": "contours"},
      "resolve": {"axis": {"x": "independent", "y": "independent"}},
      "layer": [
        {
          "data": {"values": [{}]},
          "mark": {"type": "rect", "fill": "#fffff5"},
          "encoding": {
            "x": {"datum": 0, "type": "quantitative", "scale": {"domain": [0, 12], "nice": false, "zero": false},
                  "axis": {"orient": "bottom", "values": [0, 5, 10], "ticks": false, "tickSize": 0, "labelPadding": 6, "labelFontSize": 25, "title": "Spanwise (mm)", "titleFontSize": 36, "titlePadding": -4, "titleX": 387}},
            "x2": {"datum": 11.39},
            "y": {"datum": 0.63, "type": "quantitative", "scale": {"domain": [0, 12], "nice": false, "zero": false},
                  "axis": {"orient": "left", "values": [0,1,2,3,4,5,6,7,8,9,10,11,12], "ticks": false, "tickSize": 0, "labelPadding": 12, "labelFontSize": 26, "title": "Streamwise (mm)", "titleFontSize": 36, "titlePadding": -8, "titleY": 340}},
            "y2": {"datum": 11.53}
          }
        },
        {
          "transform": [{"filter": "datum.lam == 100"}],
          "mark": {"type": "line", "interpolate": "linear-closed", "strokeWidth": 0},
          "encoding": {
            "x": {"field": "x", "type": "quantitative", "scale": {"domain": [0, 12], "nice": false, "zero": false},
                  "axis": {"orient": "bottom", "values": [0, 5, 10], "labels": false, "title": null, "tickSize": -18, "tickWidth": 2.5}},
            "y": {"field": "y", "type": "quantitative", "scale": {"domain": [0, 12], "nice": false, "zero": false},
                  "axis": {"orient": "left", "values": [0,1,2,3,4,5,6,7,8,9,10,11,12], "labels": false, "title": null, "tickSize": -18, "tickWidth": 3}},
            "detail": {"field": "id"},
            "order": {"value": null},
            "fill": {"field": "lam", "type": "quantitative", "legend": null,
                     "scale": {"type": "threshold", "domain": [-300, -200, -100, 100, 200, 300], "range": ["#0000ff", "#00aaff", "#55ffff", "#fffff5", "#ffff55", "#ffaa00", "#ff0000"]}}
          }
        },
        {
          "transform": [{"filter": "datum.lam == 200"}],
          "mark": {"type": "line", "interpolate": "linear-closed", "strokeWidth": 0},
          "encoding": {
            "x": {"field": "x", "type": "quantitative", "scale": {"domain": [0, 12], "nice": false, "zero": false},
                  "axis": {"orient": "bottom", "values": [1,2,3,4,6,7,8,9,11], "labels": false, "title": null, "tickSize": -10, "tickWidth": 1.5}},
            "y": {"field": "y", "type": "quantitative", "scale": {"domain": [0, 12], "nice": false, "zero": false},
                  "axis": {"orient": "left", "values": [0.2,0.4,0.6,0.8,1.2,1.4,1.6,1.8,2.2,2.4,2.6,2.8,3.2,3.4,3.6,3.8,4.2,4.4,4.6,4.8,5.2,5.4,5.6,5.8,6.2,6.4,6.6,6.8,7.2,7.4,7.6,7.8,8.2,8.4,8.6,8.8,9.2,9.4,9.6,9.8,10.2,10.4,10.6,10.8,11.2,11.4,11.6,11.8], "labels": false, "title": null, "tickSize": -9, "tickWidth": 1.8}},
            "detail": {"field": "id"},
            "order": {"value": null},
            "fill": {"field": "lam", "type": "quantitative", "legend": null,
                     "scale": {"type": "threshold", "domain": [-300, -200, -100, 100, 200, 300], "range": ["#0000ff", "#00aaff", "#55ffff", "#fffff5", "#ffff55", "#ffaa00", "#ff0000"]}}
          }
        },
        {
          "transform": [{"filter": "datum.lam == 300"}],
          "mark": {"type": "line", "interpolate": "linear-closed", "strokeWidth": 0},
          "encoding": {
            "x": {"field": "x", "type": "quantitative", "scale": {"domain": [0, 12], "nice": false, "zero": false},
                  "axis": {"orient": "top", "values": [5, 10], "labels": false, "title": null, "tickSize": -18, "tickWidth": 2.5}},
            "y": {"field": "y", "type": "quantitative", "scale": {"domain": [0, 12], "nice": false, "zero": false},
                  "axis": {"orient": "right", "values": [0,1,2,3,4,5,6,7,8,9,10,11,12], "labels": false, "title": null, "tickSize": -18, "tickWidth": 3}},
            "detail": {"field": "id"},
            "order": {"value": null},
            "fill": {"field": "lam", "type": "quantitative", "legend": null,
                     "scale": {"type": "threshold", "domain": [-300, -200, -100, 100, 200, 300], "range": ["#0000ff", "#00aaff", "#55ffff", "#fffff5", "#ffff55", "#ffaa00", "#ff0000"]}}
          }
        },
        {
          "data": {"values": [
            {"x0": 2.17, "x1": 4.00, "y0": 7.62, "y1": 9.33},
            {"x0": 6.24, "x1": 7.92, "y0": 1.34, "y1": 2.95}
          ]},
          "mark": {"type": "rect", "fill": null, "stroke": "#3a3aff", "strokeWidth": 4},
          "encoding": {
            "x": {"field": "x0", "type": "quantitative", "scale": {"domain": [0, 12], "nice": false, "zero": false},
                  "axis": {"orient": "top", "values": [1,2,3,4,6,7,8,9,11], "labels": false, "title": null, "tickSize": -9, "tickWidth": 1.5}},
            "x2": {"field": "x1"},
            "y": {"field": "y0", "type": "quantitative", "scale": {"domain": [0, 12], "nice": false, "zero": false},
                  "axis": {"orient": "right", "values": [0.2,0.4,0.6,0.8,1.2,1.4,1.6,1.8,2.2,2.4,2.6,2.8,3.2,3.4,3.6,3.8,4.2,4.4,4.6,4.8,5.2,5.4,5.6,5.8,6.2,6.4,6.6,6.8,7.2,7.4,7.6,7.8,8.2,8.4,8.6,8.8,9.2,9.4,9.6,9.8,10.2,10.4,10.6,10.8,11.2,11.4,11.6,11.8], "labels": false, "title": null, "tickSize": -9, "tickWidth": 1.8}},
            "y2": {"field": "y1"}
          }
        },
        {
          "data": {"values": [{}]},
          "mark": {"type": "rect", "fill": null, "stroke": "black", "strokeWidth": 4},
          "encoding": {
            "x": {"datum": 0, "type": "quantitative", "scale": {"domain": [0, 12], "nice": false, "zero": false}, "axis": null},
            "x2": {"datum": 12},
            "y": {"datum": 0, "type": "quantitative", "scale": {"domain": [0, 12], "nice": false, "zero": false}, "axis": null},
            "y2": {"datum": 12}
          }
        }
      ]
    },
    {
      "width": 82,
      "height": 706,
      "data": {"name": "levels"},
      "layer": [
        {
          "mark": {"type": "rect", "stroke": "black", "strokeWidth": 1.2},
          "encoding": {
            "x": {"datum": "swatch", "type": "nominal", "scale": {"type": "band", "domain": ["swatch", "label"], "paddingInner": 0.36, "paddingOuter": 0}, "axis": null},
            "y": {"field": "lam", "type": "ordinal", "scale": {"type": "band", "domain": [350, 250, 150, 0, -150, -250, -350], "range": [263.5, 438.5], "paddingInner": 0, "paddingOuter": 0}, "axis": null},
            "fill": {"field": "lam", "type": "quantitative", "legend": null,
                     "scale": {"type": "threshold", "domain": [-300, -200, -100, 100, 200, 300], "range": ["#0000ff", "#00aaff", "#55ffff", "#fffff5", "#ffff55", "#ffaa00", "#ff0000"]}}
          }
        },
        {
          "mark": {"type": "text", "align": "right", "baseline": "middle", "fontSize": 22, "color": "black"},
          "encoding": {
            "x": {"datum": "label", "type": "nominal", "bandPosition": 1, "scale": {"type": "band", "domain": ["swatch", "label"], "paddingInner": 0.36, "paddingOuter": 0}, "axis": null},
            "y": {"field": "lam", "type": "ordinal", "bandPosition": 0, "scale": {"type": "band", "domain": [350, 250, 150, 0, -150, -250, -350], "range": [263.5, 438.5], "paddingInner": 0, "paddingOuter": 0}, "axis": null},
            "text": {"field": "edge"}
          }
        },
        {
          "data": {"values": [{}]},
          "mark": {"type": "text", "text": "λ", "font": "DejaVu Serif", "fontSize": 44, "align": "center", "baseline": "alphabetic", "dy": -18, "color": "black"},
          "encoding": {
            "x": {"datum": "swatch", "type": "nominal", "bandPosition": 0.5, "scale": {"type": "band", "domain": ["swatch", "label"], "paddingInner": 0.36, "paddingOuter": 0}, "axis": null},
            "y": {"datum": 350, "type": "ordinal", "bandPosition": 0, "scale": {"type": "band", "domain": [350, 250, 150, 0, -150, -250, -350], "range": [263.5, 438.5], "paddingInner": 0, "paddingOuter": 0}, "axis": null}
          }
        },
        {
          "data": {"values": [{}]},
          "mark": {"type": "text", "text": "ci", "fontWeight": "bold", "fontSize": 31, "align": "left", "baseline": "alphabetic", "dx": 2, "dy": -1, "color": "black"},
          "encoding": {
            "x": {"datum": "swatch", "type": "nominal", "bandPosition": 1, "scale": {"type": "band", "domain": ["swatch", "label"], "paddingInner": 0.36, "paddingOuter": 0}, "axis": null},
            "y": {"datum": 350, "type": "ordinal", "bandPosition": 0, "scale": {"type": "band", "domain": [350, 250, 150, 0, -150, -250, -350], "range": [263.5, 438.5], "paddingInner": 0, "paddingOuter": 0}, "axis": null}
          }
        }
      ]
    }
  ]
}
